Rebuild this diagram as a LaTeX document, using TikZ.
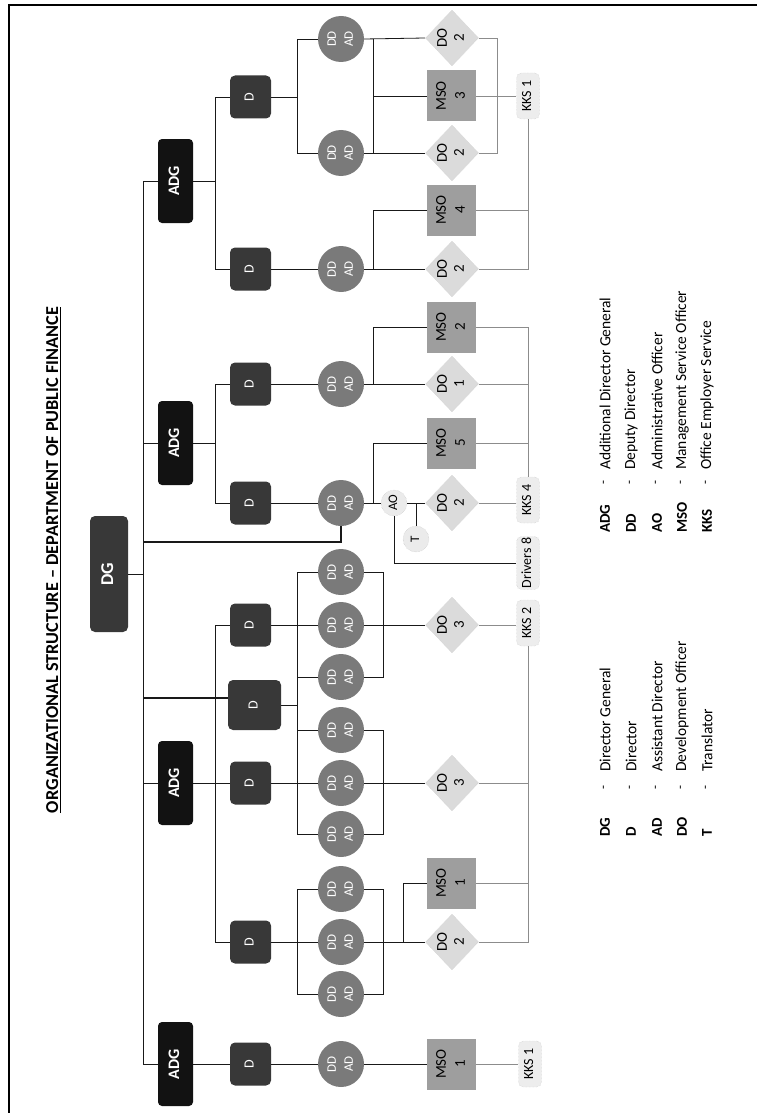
\documentclass[tikz,border=0pt]{standalone}
\usepackage{fontspec}
\setmainfont{Carlito}
\usetikzlibrary{shapes.geometric}
\newcommand{\rtxt}[1]{\rotatebox{90}{\begin{tabular}{@{}c@{}}#1\end{tabular}}}
\begin{document}
\begin{tikzpicture}[x=1pt,y=-1pt,
  ln/.style={draw=black!90,line width=0.8pt},
  gl/.style={draw=black!45,line width=0.7pt},
  dgbox/.style={rectangle,rounded corners=5pt,fill=black!78,text=white,minimum width=38pt,minimum height=116pt,inner sep=0pt,font=\fontsize{18}{20}\selectfont\bfseries},
  adgbox/.style={rectangle,rounded corners=4pt,fill=black!93,text=white,minimum width=35pt,minimum height=84pt,inner sep=0pt,font=\fontsize{16}{18}\selectfont\bfseries},
  dbox/.style={rectangle,rounded corners=5pt,fill=black!78,text=white,minimum width=41pt,minimum height=43pt,inner sep=0pt,font=\fontsize{14}{16}\selectfont},
  ddc/.style={circle,fill=black!52,text=white,minimum size=46pt,inner sep=0pt,font=\fontsize{13}{17}\selectfont},
  msobox/.style={rectangle,fill=black!38,text=black,minimum width=49pt,minimum height=51pt,inner sep=0pt,font=\fontsize{15}{19}\selectfont},
  dodia/.style={diamond,fill=black!14,draw=black!22,densely dotted,text=black,minimum width=52pt,minimum height=56pt,inner sep=0pt,font=\fontsize{15}{17}\selectfont},
  kksbox/.style={rectangle,rounded corners=5pt,fill=black!7,draw=black!25,densely dotted,text=black,minimum width=23pt,minimum height=46pt,inner sep=1pt,font=\fontsize{14}{16}\selectfont},
  smallc/.style={circle,fill=black!8,draw=black!25,densely dotted,text=black,minimum size=26pt,inner sep=0pt,font=\fontsize{13}{15}\selectfont},
  lgab/.style={rotate=90,anchor=west,inner sep=0pt,font=\fontsize{15}{17}\selectfont\bfseries},
  lgtx/.style={rotate=90,anchor=west,inner sep=0pt,font=\fontsize{15.5}{17}\selectfont},
  lgda/.style={rotate=90,inner sep=0pt,font=\fontsize{13}{15}\selectfont}
]
\useasboundingbox (0,0) rectangle (757,1113);
% frame
\coordinate (fbl) at (9,1113);
\coordinate (ftl) at (9,5);
\coordinate (ftr) at (757,5);
\draw[line width=1.3pt] (fbl) -- (ftl) -- (ftr);

% title
\node[inner sep=0pt] (title) at (54,560) {\rotatebox{90}{\resizebox{506pt}{!}{\bfseries\underline{ORGANIZATIONAL STRUCTURE – DEPARTMENT OF PUBLIC FINANCE}}}};

% column coordinates
\coordinate (bus) at (143,0);
\coordinate (dcol) at (215,0);
\coordinate (lcol) at (297,0);
\coordinate (rb) at (373,0);
\coordinate (rc) at (383,0);
\coordinate (x403) at (403,0);
\coordinate (x497) at (497,0);
\coordinate (j542) at (143,542);

% DG and ADG
\node[dgbox] (dg) at (109,574) {\rtxt{DG}};
\node[adgbox] (adg4) at (175.5,181) {\rtxt{ADG}};
\node[adgbox] (adg3) at (175.5,443) {\rtxt{ADG}};
\node[adgbox] (adg2) at (175.5,783) {\rtxt{ADG}};
\node[adgbox] (adg1) at (175.5,1064) {\rtxt{ADG}};

% D boxes
\node[dbox] (d4a) at (250.5,97) {\rtxt{D}};
\node[dbox] (d4b) at (250.5,269) {\rtxt{D}};
\node[dbox] (d3a) at (250.5,384) {\rtxt{D}};
\node[dbox] (d3b) at (250.5,503) {\rtxt{D}};
\node[dbox] (d2a) at (250.5,625) {\rtxt{D}};
\node[dbox,minimum width=53pt,minimum height=50pt] (dbig) at (254.5,705) {\rtxt{D}};
\node[dbox] (d2c) at (250.5,783) {\rtxt{D}};
\node[dbox] (d2d) at (250.5,942) {\rtxt{D}};
\node[dbox] (d1) at (250.5,1064) {\rtxt{D}};

% DD/AD circles
\node[ddc] (c1) at (341,39) {\rtxt{DD\\AD}};
\node[ddc] (c2) at (341,153) {\rtxt{DD\\AD}};
\node[ddc] (c3) at (341,269) {\rtxt{DD\\AD}};
\node[ddc] (c4) at (341,384) {\rtxt{DD\\AD}};
\node[ddc] (c5) at (341,503) {\rtxt{DD\\AD}};
\node[ddc] (c6) at (341,572) {\rtxt{DD\\AD}};
\node[ddc] (c7) at (341,625) {\rtxt{DD\\AD}};
\node[ddc] (c8) at (341,677) {\rtxt{DD\\AD}};
\node[ddc] (c9) at (341,730) {\rtxt{DD\\AD}};
\node[ddc] (c10) at (341,783) {\rtxt{DD\\AD}};
\node[ddc] (c11) at (341,834) {\rtxt{DD\\AD}};
\node[ddc] (c12) at (341,889) {\rtxt{DD\\AD}};
\node[ddc] (c13) at (341,942) {\rtxt{DD\\AD}};
\node[ddc] (c14) at (341,994) {\rtxt{DD\\AD}};
\node[ddc] (c15) at (341,1064) {\rtxt{DD\\AD}};

% DO diamonds
\node[dodia] (doa) at (452,38) {\rtxt{DO\\2}};
\node[dodia] (dob) at (452,153) {\rtxt{DO\\2}};
\node[dodia] (doc) at (452,269) {\rtxt{DO\\2}};
\node[dodia] (do1) at (452,384) {\rtxt{DO\\1}};
\node[dodia] (dod) at (452,503) {\rtxt{DO\\2}};
\node[dodia] (do3a) at (452,625) {\rtxt{DO\\3}};
\node[dodia] (do3b) at (452,783) {\rtxt{DO\\3}};
\node[dodia] (do2e) at (452,942) {\rtxt{DO\\2}};

% MSO boxes
\node[msobox] (mso3) at (451.5,96) {\rtxt{MSO\\3}};
\node[msobox] (mso4) at (451.5,210) {\rtxt{MSO\\4}};
\node[msobox] (mso2) at (451.5,327) {\rtxt{MSO\\2}};
\node[msobox] (mso5) at (451.5,443) {\rtxt{MSO\\5}};
\node[msobox] (mso1b) at (451.5,883) {\rtxt{MSO\\1}};
\node[msobox] (mso1a) at (451.5,1064) {\rtxt{MSO\\1}};

% AO, T
\node[smallc] (ao) at (394,503) {\rtxt{AO}};
\node[smallc] (t) at (416,539) {\rtxt{T}};

% KKS / Drivers
\node[kksbox] (kks1a) at (528,96) {\rtxt{KKS 1}};
\node[kksbox] (kks4) at (528,500) {\rtxt{KKS 4}};
\node[kksbox,minimum height=53pt] (drivers) at (528,563) {\rtxt{Drivers 8}};
\node[kksbox] (kks2) at (528,623) {\rtxt{KKS 2}};
\node[kksbox] (kks1b) at (530,1064) {\rtxt{KKS 1}};

% ---- connectors (dark) ----
\draw[ln] (dg.east) -- (dg.east -| bus);
\draw[ln] (adg4.west) -- (adg4.west -| bus) -- (adg1.west -| bus) -- (adg1.west);
\draw[ln] (adg3.west) -- (adg3.west -| bus);
\draw[ln] (adg2.west) -- (adg2.west -| bus);
\path ([yshift=7pt]dbig.west) coordinate (jbig);
\draw[ln,line width=1.8pt] (bus |- jbig) -- (jbig);
\draw[ln,line width=1.4pt] (c5.south) |- (j542);

\draw[ln] (adg4.east) -- (adg4.east -| dcol);
\draw[ln] (d4a.west) -- (d4a.west -| dcol) -- (d4b.west -| dcol) -- (d4b.west);
\draw[ln] (adg3.east) -- (adg3.east -| dcol);
\draw[ln] (d3a.west) -- (d3a.west -| dcol) -- (d3b.west -| dcol) -- (d3b.west);
\draw[ln] (adg2.east) -- (d2c.west);
\draw[ln] (d2a.west) -- (d2a.west -| dcol) -- (d2d.west -| dcol) -- (d2d.west);
\draw[ln] (adg1.east) -- (d1.west);

\draw[ln] (d4a.east) -- (d4a.east -| lcol);
\draw[ln] (c1.west) -- (c1.west -| lcol) -- (c2.west -| lcol) -- (c2.west);
\draw[ln] (d4b.east) -- (c3.west);
\draw[ln] (d3a.east) -- (c4.west);
\draw[ln] (d3b.east) -- (c5.west);
\draw[ln] (c6.west) -- (c6.west -| lcol) -- (c11.west -| lcol) -- (c11.west);
\draw[ln] (c8.west) -- (c8.west -| lcol);
\draw[ln] (c9.west) -- (c9.west -| lcol);
\draw[ln] (d2a.east) -- (c7.west);
\draw[ln] (dbig.east) -- (dbig.east -| lcol);
\draw[ln] (d2c.east) -- (c10.west);
\draw[ln] (c12.west) -- (c12.west -| lcol) -- (c14.west -| lcol) -- (c14.west);
\draw[ln] (d2d.east) -- (c13.west);
\draw[ln] (d1.east) -- (c15.west);

\draw[ln] (c1.east) -- (doa.west);
\draw[ln] (c2.east) -- (dob.west);
\draw[ln] (c1.east -| rb) -- (c2.east -| rb);
\draw[ln] (mso3.west -| rb) -- (mso3.west);
\draw[ln] (c3.east) -- (doc.west);
\draw[ln] (c3.east -| rb) |- (mso4.west);
\draw[ln] (c4.east) -- (do1.west);
\draw[ln] (c4.east -| rb) |- (mso2.west);
\draw[ln] (c5.east) -- (ao.west);
\draw[ln] (c5.east -| rb) |- (mso5.west);
\draw[ln] (ao.east) -- (dod.west);
\draw[ln] (t.north) -- (t.north |- ao.east);
\draw[ln] (ao.south) |- (drivers.west);
\draw[ln] (c6.east) -- (c6.east -| rc) -- (c8.east -| rc) -- (c8.east);
\draw[ln] (c7.east) -- (do3a.west);
\draw[ln] (c9.east) -- (c9.east -| rc) -- (c11.east -| rc) -- (c11.east);
\draw[ln] (c10.east) -- (do3b.west);
\draw[ln] (c12.east) -- (c12.east -| rc) -- (c14.east -| rc) -- (c14.east);
\draw[ln] (c13.east) -- (do2e.west);
\draw[ln] (do2e.west -| x403) |- (mso1b.west);
\draw[ln] (c15.east) -- (mso1a.west);

% ---- connectors (light) ----
\draw[gl] (doa.east) -- (doa.east -| x497) -- (dob.east -| x497) -- (dob.east);
\draw[gl] (mso3.east) -- (kks1a.west);
\draw[gl] (kks1a.south) |- (doc.east);
\draw[gl] (mso4.east) -- (mso4.east -| kks1a.south);
\draw[gl] (mso2.east) -| (kks4.north);
\draw[gl] (do1.east) -- (do1.east -| kks4.north);
\draw[gl] (mso5.east) -- (mso5.east -| kks4.north);
\draw[gl] (dod.east) -- (dod.east -| kks4.west);
\draw[gl] (do3a.east) -- (do3a.east -| kks2.west);
\draw[gl] (kks2.south) |- (do2e.east);
\draw[gl] (do3b.east) -- (do3b.east -| kks2.south);
\draw[gl] (mso1b.east) -- (mso1b.east -| kks2.south);
\draw[gl] (mso1a.east) -- (kks1b.west);

% ---- legend ----
\node[lgab] (la1) at (605,837) {DG};
\node[lgab] (la2) at (631,837) {D};
\node[lgab] (la3) at (657,837) {AD};
\node[lgab] (la4) at (682,837) {DO};
\node[lgab] (la5) at (707,837) {T};
\node[lgda] (ld1) at (605,788) {-};
\node[lgda] (ld2) at (631,788) {-};
\node[lgda] (ld3) at (657,788) {-};
\node[lgda] (ld4) at (682,788) {-};
\node[lgda] (ld5) at (707,788) {-};
\node[lgtx] (lt1) at (605,772) {Director General};
\node[lgtx] (lt2) at (631,772) {Director};
\node[lgtx] (lt3) at (657,772) {Assistant Director};
\node[lgtx] (lt4) at (682,772) {Development Officer};
\node[lgtx] (lt5) at (707,772) {Translator};

\node[lgab] (lb1) at (605,533) {ADG};
\node[lgab] (lb2) at (631,533) {DD};
\node[lgab] (lb3) at (657,533) {AO};
\node[lgab] (lb4) at (682,533) {MSO};
\node[lgab] (lb5) at (707,533) {KKS};
\node[lgda] (le1) at (605,483) {-};
\node[lgda] (le2) at (631,483) {-};
\node[lgda] (le3) at (657,483) {-};
\node[lgda] (le4) at (682,483) {-};
\node[lgda] (le5) at (707,483) {-};
\node[lgtx] (lu1) at (605,470) {Additional Director General};
\node[lgtx] (lu2) at (631,470) {Deputy Director};
\node[lgtx] (lu3) at (657,470) {Administrative Officer};
\node[lgtx] (lu4) at (682,470) {Management Service Officer};
\node[lgtx] (lu5) at (707,470) {Office Employer Service};
\end{tikzpicture}
\end{document}
